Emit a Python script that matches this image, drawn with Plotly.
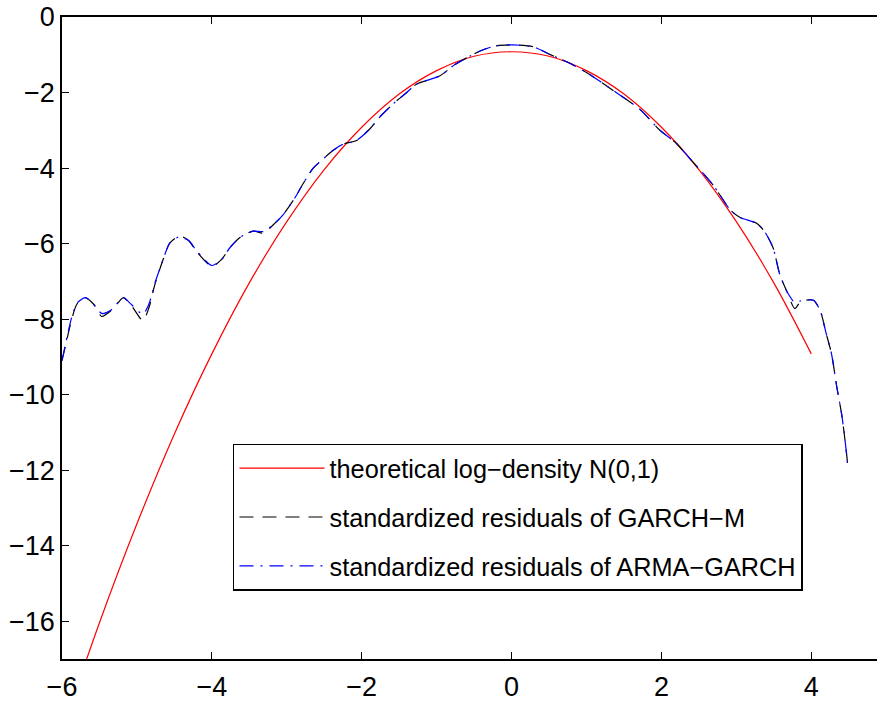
import plotly.graph_objects as go

# theoretical log-density of N(0,1)
x_theo = [-6.0, -5.5, -5.0, -4.5, -4.0, -3.5, -3.0, -2.5, -2.0, -1.5, -1.0, -0.5,
          0.0, 0.5, 1.0, 1.5, 2.0, 2.5, 3.0, 3.5, 4.0]
y_theo = [-18.92, -16.04, -13.42, -11.04, -8.92, -7.04, -5.42, -4.04, -2.92, -2.04,
          -1.42, -1.04, -0.92, -1.04, -1.42, -2.04, -2.92, -4.04, -5.42, -7.04, -8.92]

# empirical log-density curves
x_emp = [-6.0, -5.93, -5.87, -5.80, -5.69, -5.58, -5.47, -5.36, -5.25, -5.18, -5.07,
         -4.92, -4.84, -4.76, -4.65, -4.56, -4.43, -4.31, -4.20, -4.0, -3.87, -3.76,
         -3.62, -3.45, -3.31, -3.18, -3.05, -2.87, -2.82, -2.65, -2.51, -2.38, -2.25,
         -2.07, -1.89, -1.76, -1.58, -1.40, -1.27, -0.96, -0.75, -0.55, -0.42, -0.22,
         0.02, 0.29, 0.51, 0.75, 1.0, 1.36, 1.71, 1.98, 2.2, 2.38, 2.69, 2.92, 3.05,
         3.27, 3.38, 3.49, 3.58, 3.67, 3.78, 3.85, 3.92, 4.03, 4.12, 4.20, 4.27, 4.34,
         4.41, 4.47, 4.49]
y_garchm = [-9.1, -8.5, -8.0, -7.6, -7.43, -7.6, -7.93, -7.8, -7.56, -7.43, -7.65,
            -8.04, -7.7, -7.08, -6.42, -5.98, -5.8, -5.92, -6.22, -6.6, -6.42, -6.11,
            -5.83, -5.67, -5.72, -5.5, -5.24, -4.72, -4.54, -4.01, -3.75, -3.53, -3.37,
            -3.27, -2.96, -2.65, -2.30, -2.0, -1.78, -1.56, -1.25, -1.03, -0.9, -0.77,
            -0.74, -0.79, -0.99, -1.2, -1.47, -1.95, -2.44, -3.0, -3.35, -3.75, -4.45,
            -5.11, -5.31, -5.46, -5.69, -6.11, -6.82, -7.25, -7.72, -7.55, -7.5, -7.5,
            -7.78, -8.39, -8.92, -9.79, -10.58, -11.55, -11.94]
y_armagarch = [-9.1, -8.45, -7.95, -7.58, -7.43, -7.6, -7.85, -7.78, -7.56, -7.43, -7.62,
               -7.87, -7.6, -7.05, -6.42, -5.98, -5.82, -5.92, -6.2, -6.58, -6.42, -6.11,
               -5.83, -5.67, -5.68, -5.5, -5.24, -4.72, -4.54, -4.01, -3.75, -3.53, -3.37,
               -3.27, -2.96, -2.65, -2.30, -2.0, -1.78, -1.56, -1.25, -1.03, -0.9, -0.77,
               -0.74, -0.79, -0.99, -1.2, -1.47, -1.95, -2.44, -3.0, -3.35, -3.75, -4.45,
               -5.11, -5.31, -5.46, -5.69, -6.11, -6.82, -7.25, -7.56, -7.52, -7.5, -7.5,
               -7.78, -8.39, -8.92, -9.79, -10.58, -11.55, -11.94]

x_ticks = [-6, -4, -2, 0, 2, 4]
y_ticks = [0, -2, -4, -6, -8, -10, -12, -14, -16]

names = ["theoretical log\u2212density N(0,1)",
         "standardized residuals of GARCH\u2212M",
         "standardized residuals of ARMA\u2212GARCH"]

FONT = "Liberation Sans, Arial, Helvetica, sans-serif"

fig = go.Figure()
fig.add_trace(go.Scatter(x=x_theo, y=y_theo, mode="lines", name=names[0],
                         line=dict(color="#FF0000", width=1.2, shape="spline"),
                         legendgroup="a"))
fig.add_trace(go.Scatter(x=x_emp, y=y_garchm, mode="lines", name=names[1],
                         line=dict(color="#000000", width=1.2, dash="14px,9px",
                                   shape="spline", smoothing=0.7),
                         legendgroup="b"))
fig.add_trace(go.Scatter(x=x_emp, y=y_armagarch, mode="lines", name=names[2],
                         line=dict(color="#0000FF", width=1.2, dash="14px,7px,2px,7px",
                                   shape="spline", smoothing=0.7),
                         legendgroup="c"))

fig.update_layout(
    width=877, height=702,
    margin=dict(l=62, r=0, t=17, b=38),
    plot_bgcolor="white", paper_bgcolor="white",
    font=dict(family=FONT, size=27, color="black"),
    showlegend=True,
    legend=dict(x=0.2098, y=0.3354, xanchor="left", yanchor="top",
                bordercolor="black", borderwidth=1.5, bgcolor="white",
                font=dict(family=FONT, size=25.3, color="black"),
                tracegroupgap=13, itemwidth=85, traceorder="grouped"),
)
fig.update_xaxes(range=[-6, 4.877], tickvals=x_ticks,
                 ticktext=[str(v).replace("-", "\u2212") for v in x_ticks],
                 ticks="inside", ticklen=7, tickwidth=1, tickcolor="black",
                 tickfont=dict(family=FONT, size=27),
                 showline=True, linecolor="black", linewidth=1.5, mirror="ticks",
                 showgrid=False, zeroline=False, ticklabelstandoff=3)
fig.update_yaxes(range=[-17, 0], tickvals=y_ticks,
                 ticktext=[str(v).replace("-", "\u2212") for v in y_ticks],
                 ticks="inside", ticklen=7, tickwidth=1, tickcolor="black",
                 tickfont=dict(family=FONT, size=27),
                 showline=True, linecolor="black", linewidth=1.5,
                 showgrid=False, zeroline=False, ticklabelstandoff=0)

fig.write_html("out.html")
